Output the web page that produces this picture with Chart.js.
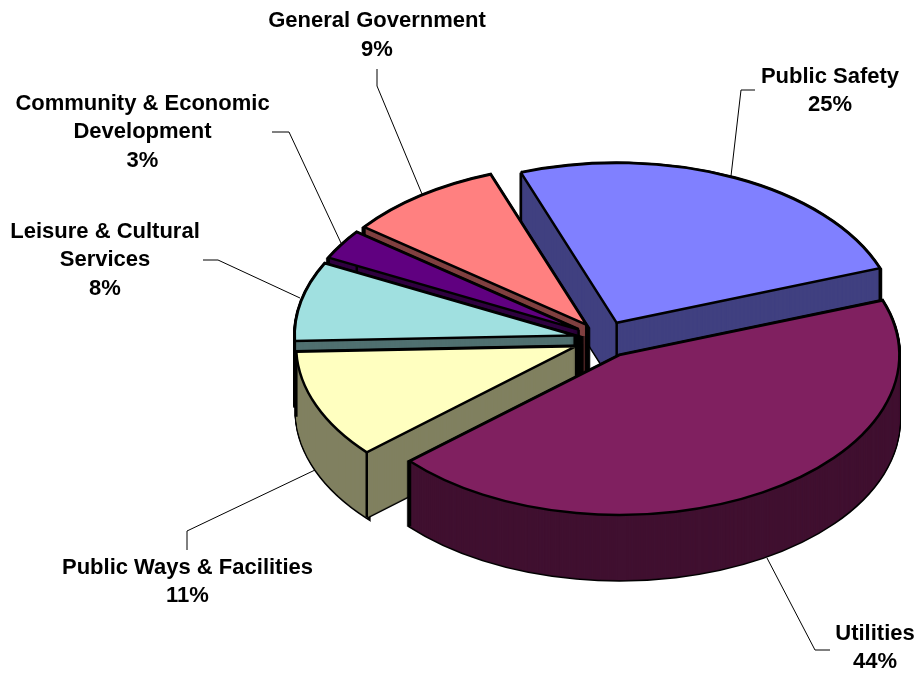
<!DOCTYPE html>
<html>
<head>
<meta charset="utf-8">
<title>Expenditures by function</title>
<script src="https://cdn.jsdelivr.net/npm/chart.js@4"></script>
<style>
  html, body { margin: 0; padding: 0; background: #fff; }
  canvas { display: block; }
</style>
</head>
<body>
<canvas id="pie" width="918" height="673"></canvas>
<script>
// Slice data, clockwise from the first angle
const categories = ['Public Safety', 'Utilities', 'Public Ways & Facilities', 'Leisure & Cultural\nServices', 'Community & Economic\nDevelopment', 'General Government'];
const percents = [25, 44, 11, 8, 3, 9];
const topColors = ['#8080ff', '#802060', '#ffffc0', '#a0e0e0', '#600080', '#ff8080'];
const wallColors = ['#404080', '#401030', '#808060', '#507070', '#300040', '#804040'];

// Back-to-front paint order for the slices (indexes into the arrays above)
const paintOrder = [0, 5, 4, 3, 2, 1];

// Label anchors: centre x, middle of first line, then the leader line points
const labelSpots = [
  { x: 830, y: 76.5, leader: [[755, 90], [741, 90], [731, 176]] },
  { x: 875, y: 633.5, leader: [[830, 650], [815, 650], [767, 558]] },
  { x: 187.5, y: 567.5, leader: [[187, 550], [187, 531], [315, 470]] },
  { x: 105, y: 231.5, leader: [[203, 260], [218, 260], [300, 298]] },
  { x: 142.5, y: 103.5, leader: [[272, 132], [289, 132], [341, 243]] },
  { x: 377, y: 21, leader: [[377, 69], [377, 86], [422, 194]] }
];
const lineHeight = 28.8;

// Pie geometry
const pieCenterX = 604;
const pieCenterY = 339.4;
const pieRadius = 280;
const tilt = 0.571;       // vertical squash of the pie disc
const wallDepth = 65;     // height of the extruded side
const explodeX = 30;      // how far each slice is pulled out, before the squash
const explodeY = 32;

function sliceCenter(arc) {
  const mid = (arc.startAngle + arc.endAngle) / 2;
  return {
    dx: Math.cos(mid) * explodeX,
    dy: Math.sin(mid) * explodeY
  };
}

// Put the context in the flattened pie space for one slice, dropped by `drop` pixels
function applySlice(ctx, arc, drop) {
  const { dx, dy } = sliceCenter(arc);
  ctx.setTransform(1, 0, 0, 1, 0, 0);
  ctx.translate(pieCenterX, pieCenterY + drop);
  ctx.scale(1, tilt);
  ctx.translate(dx - arc.x, dy - arc.y);
}

function drawWithOptions(ctx, arc, overrides) {
  const saved = arc.options;
  arc.options = Object.assign({}, saved, overrides);
  arc.draw(ctx);
  arc.options = saved;
}

// Stroke with an unscaled pen so outlines keep one width around the ellipse
function withFlatPen(ctx, fn) {
  const stroke = ctx.stroke;
  ctx.stroke = function () {
    ctx.save();
    ctx.setTransform(1, 0, 0, 1, 0, 0);
    stroke.call(ctx);
    ctx.restore();
  };
  fn();
  delete ctx.stroke;
}

function drawEdges(ctx, arc) {
  const { dx, dy } = sliceCenter(arc);
  const points = [
    [0, 0],
    [Math.cos(arc.startAngle) * pieRadius, Math.sin(arc.startAngle) * pieRadius],
    [Math.cos(arc.endAngle) * pieRadius, Math.sin(arc.endAngle) * pieRadius]
  ];
  ctx.setTransform(1, 0, 0, 1, 0, 0);
  ctx.strokeStyle = '#000';
  ctx.lineWidth = 2.5;
  points.forEach(p => {
    const x = pieCenterX + dx + p[0];
    const y = pieCenterY + (dy + p[1]) * tilt;
    ctx.beginPath();
    ctx.moveTo(x, y);
    ctx.lineTo(x, y + wallDepth);
    ctx.stroke();
  });
}

const extrudedPie = {
  id: 'extrudedPie',
  beforeDatasetsDraw(chart) {
    const ctx = chart.ctx;
    const arcs = chart.getDatasetMeta(0).data;
    ctx.save();
    withFlatPen(ctx, () => {
      paintOrder.forEach(i => {
        const arc = arcs[i];
        // outline of the swept side first, then the wall fill over its inner half
        for (let drop = wallDepth; drop >= 0; drop--) {
          applySlice(ctx, arc, drop);
          drawWithOptions(ctx, arc, { backgroundColor: 'transparent', borderColor: '#000', borderWidth: 3.4 });
        }
        for (let drop = wallDepth; drop >= 0; drop--) {
          applySlice(ctx, arc, drop);
          drawWithOptions(ctx, arc, { backgroundColor: wallColors[i], borderColor: wallColors[i], borderWidth: 0.5 });
        }
        drawEdges(ctx, arc);
        applySlice(ctx, arc, 0);
        arc.draw(ctx);
      });
    });
    ctx.restore();
    return false;
  },
  afterDraw(chart) {
    const ctx = chart.ctx;
    ctx.save();
    // leader lines
    ctx.strokeStyle = '#000';
    ctx.lineWidth = 1;
    labelSpots.forEach(spot => {
      ctx.beginPath();
      spot.leader.forEach((p, n) => n ? ctx.lineTo(p[0], p[1]) : ctx.moveTo(p[0], p[1]));
      ctx.stroke();
    });
    // slice labels
    ctx.fillStyle = '#000';
    ctx.font = 'bold 22px "Liberation Sans", Arial, sans-serif';
    ctx.textAlign = 'center';
    ctx.textBaseline = 'middle';
    categories.forEach((name, i) => {
      const lines = name.split('\n').concat(percents[i] + '%');
      lines.forEach((text, n) => {
        ctx.fillText(text, labelSpots[i].x, labelSpots[i].y + n * lineHeight);
      });
    });
    ctx.restore();
  }
};

new Chart(document.getElementById('pie'), {
  type: 'pie',
  data: {
    labels: categories.map(c => c.replace('\n', ' ')),
    datasets: [{
      data: percents,
      backgroundColor: topColors,
      borderColor: '#000',
      borderWidth: 2.5,
      borderJoinStyle: 'miter',
      radius: pieRadius
    }]
  },
  options: {
    responsive: false,
    animation: false,
    rotation: -20,
    layout: { padding: 0 },
    plugins: {
      legend: { display: false },
      tooltip: { enabled: false }
    }
  },
  plugins: [extrudedPie]
});
</script>
</body>
</html>
